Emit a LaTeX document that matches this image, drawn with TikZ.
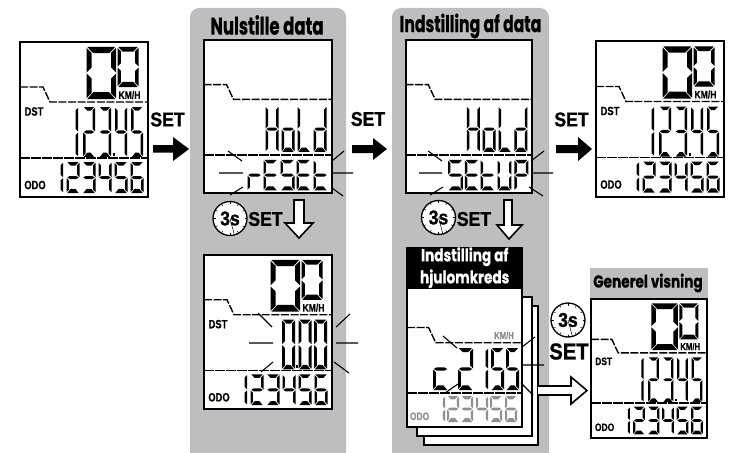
\documentclass[tikz,border=0pt]{standalone}
\usepackage{fontspec}
\setmainfont{Liberation Sans}
\newfontfamily\ttlf[FakeStretch=0.68,FakeBold=0.5]{Poppins}
\newfontfamily\ttlg[FakeStretch=0.78,FakeBold=0.5]{Poppins}
\newfontfamily\cnd[FakeStretch=0.78,FakeBold=0.5]{Liberation Sans}
\newfontfamily\setf[FakeStretch=0.88,FakeBold=1]{Liberation Sans}
\definecolor{panelgrey}{HTML}{BCBEC0}
\definecolor{fadegrey}{HTML}{8E8F92}
\tikzset{
  px/.style={x=1pt,y=-1pt},
  frameline/.style={draw=black,fill=white,line width=2pt},
  dashline/.style={line width=1.4pt,dash pattern=on 8pt off 1.6pt},
  sepline/.style={line width=1.4pt,dash pattern=on 10pt off 1pt},
  ray/.style={line width=1.1pt},
  panel/.style={fill=panelgrey,rounded corners=9pt},
  solidarrow/.style={fill=black},
  hollowarrow/.style={fill=white,draw=black,line width=1.6pt,line join=miter},
  settxt/.style={inner sep=0pt,font=\fontsize{20}{20}\setf\bfseries},
  ttl/.style={inner sep=0pt,font=\fontsize{23}{24}\ttlf\bfseries},
  lbl/.style={inner sep=0pt,transform shape,font=\fontsize{12}{12}\cnd\bfseries},
  kmh/.style={inner sep=0pt,transform shape,font=\fontsize{11}{11}\cnd\bfseries}
}
% seven segment digit: x,y,w,h,t,segments
\newcommand\dgt[6]{\begin{scope}[shift={(#1,#2)}]\def\dW{#3}\def\dH{#4}\def\dT{#5}\foreach \s in {#6}{\csname sg\s\endcsname}\end{scope}}
\def\sga{\fill (.8,0)--(\dW-.8,0)--(\dW-1.8-\dT,\dT+1.2)--(1.8+\dT,\dT+1.2)--cycle;}
\def\sgd{\fill (.8,\dH)--(\dW-.8,\dH)--(\dW-1.8-\dT,\dH-\dT-1.8)--(1.8+\dT,\dH-\dT-1.8)--cycle;}
\def\sgb{\fill (\dW,.8)--(\dW,\dH/2-.5)--(\dW-\dT,\dH/2-.5-\dT)--(\dW-\dT,.8+\dT)--cycle;}
\def\sgc{\fill (\dW,\dH-.8)--(\dW,\dH/2+.5)--(\dW-\dT,\dH/2+.5+\dT)--(\dW-\dT,\dH-.8-\dT)--cycle;}
\def\sgf{\fill (0,.8)--(0,\dH/2-.5)--(\dT,\dH/2-.5-\dT)--(\dT,.8+\dT)--cycle;}
\def\sge{\fill (0,\dH-.8)--(0,\dH/2+.5)--(\dT,\dH/2+.5+\dT)--(\dT,\dH-.8-\dT)--cycle;}
\def\sgg{\fill (.8,\dH/2)--(.8+\dT,\dH/2-\dT/2-.3)--(\dW-.8-\dT,\dH/2-\dT/2-.3)--(\dW-.8,\dH/2)--(\dW-.8-\dT,\dH/2+\dT/2+.3)--(.8+\dT,\dH/2+\dT/2+.3)--cycle;}
% screen frame: name,x,y,sx,sy,content
\newcommand\lcd[6]{\begin{scope}[shift={(#2,#3)},xscale=#4,yscale=#5]
  \draw[frameline] (0,0) rectangle (128,155);
  \draw[dashline] (0,45)--(23,45)--(30,60)--(128,60);
  \draw[sepline] (0,116)--(128,116);
  #6
\end{scope}}
\newcommand\speed{
  \dgt{66.5}{5}{29.5}{52}{5}{a,b,c,d,e,f}
  \dgt{97.5}{5}{21}{40}{3.4}{a,b,c,d,e,f}
}
\newcommand\mainrow{
  \dgt{55}{65}{3}{50}{2.5}{b,c}
  \dgt{63}{65}{12}{50}{2.5}{a,b,g,e,d}
  \dgt{79}{65}{12}{50}{2.5}{a,b,g,c,d}
  \fill (92.5,111) rectangle (94.5,114);
  \dgt{95}{65}{12}{50}{2.5}{f,g,b,c}
  \dgt{111}{65}{12}{50}{2.5}{a,f,g,c,d}
}
\newcommand\odorow{
  \dgt{40}{120}{3}{31}{2.4}{b,c}
  \dgt{46.5}{120}{13}{31}{2.4}{a,b,g,e,d}
  \dgt{62.5}{120}{13}{31}{2.4}{a,b,g,c,d}
  \dgt{78.5}{120}{13}{31}{2.4}{f,g,b,c}
  \dgt{94.5}{120}{13}{31}{2.4}{a,f,g,c,d}
  \dgt{110.5}{120}{13}{31}{2.4}{a,f,g,e,c,d}
}
\newcommand\holdrow{
  \dgt{62}{67}{13}{46}{2.5}{b,c,e,f,g}
  \dgt{78}{67}{13}{46}{2.5}{c,d,e,g}
  \dgt{94}{67}{13}{46}{2.5}{d,e,f}
  \dgt{110}{67}{13}{46}{2.5}{b,c,d,e,g}
}
\newcommand\swatch[3]{
  \draw[fill=white,line width=1.3pt] (#2,#3) circle (17);
  \foreach \a in {0,30,...,330}{\draw[line width=.5pt] ($(#2,#3)+(\a:14.5)$)--($(#2,#3)+(\a:17)$);}
  \draw[line width=.5pt] ($(#2,#3)+(75:17)$)--(#2,#3);
  \node[inner sep=0pt,font=\fontsize{20}{20}\setf\bfseries] (#1) at (#2,#3) {3s};
}
\usetikzlibrary{calc}
\begin{document}
\begin{tikzpicture}[px]
\useasboundingbox (0,0) rectangle (730,452);
\fill[white] (0,0) rectangle (730,452);
% panels
\fill[panel] (190,470)--(190,8)--(346,8)--(346,470);
\fill[panel] (392,470)--(392,8)--(549,8)--(549,470);
\fill[panelgrey] (590,268) rectangle (708,300);
\node[ttl,font=\fontsize{24.3}{25}\ttlf\bfseries] (t1) at (267,25) {Nulstille data};
\node[ttl] (t2) at (470.5,26) {Indstilling af data};
\node[ttl,font=\fontsize{17.5}{18}\ttlg\bfseries] (t3) at (648,283) {Generel visning};
% screen 1
\lcd{a}{20}{42}{1}{1}{\speed
  \node[kmh] (a-k) at (109.5,53) {KM/H};
  \node[lbl] (a-d) at (14,69.5) {DST};
  \node[lbl] (a-o) at (15,143) {ODO};
  \mainrow\odorow}
% screen 2
\lcd{b}{203.5}{40}{1}{.99}{\holdrow
  \dgt{44}{121}{14}{31}{2.4}{e,g}
  \dgt{60}{121}{14}{31}{2.4}{a,d,e,f,g}
  \dgt{77}{121}{14}{31}{2.4}{a,c,d,f,g}
  \dgt{93}{121}{14}{31}{2.4}{a,d,e,f,g}
  \dgt{110}{121}{14}{31}{2.4}{d,e,f,g}}
\draw[ray] (228,151)--(242,161) (219,173)--(243,173) (230,195)--(243,187)
           (332,161)--(344,151) (332,173)--(353,173) (332,188)--(343,196);
% screen 3
\lcd{c}{405.5}{40}{.99}{.99}{\holdrow
  \dgt{43}{121}{15}{31}{2.4}{a,c,d,f,g}
  \dgt{60}{121}{14}{31}{2.4}{a,d,e,f,g}
  \dgt{76}{121}{14}{31}{2.4}{d,e,f,g}
  \dgt{93}{121}{14}{31}{2.4}{c,d,e,f,b}
  \dgt{110}{121}{14}{31}{2.4}{a,b,e,f,g}}
\draw[ray] (428,151)--(442,161) (419,173)--(442,173) (430,195)--(443,187)
           (531,161)--(544,151) (531,173)--(553,173) (529,187)--(543,196);
% screen 4
\lcd{d}{596}{41.5}{1}{1}{\speed
  \node[kmh] (d-k) at (109.5,53) {KM/H};
  \node[lbl] (d-d) at (14,69.5) {DST};
  \node[lbl] (d-o) at (15,143) {ODO};
  \mainrow\odorow}
% screen 5
\lcd{e}{204}{255}{1}{.995}{\speed
  \node[kmh] (e-k) at (109.5,53) {KM/H};
  \node[lbl] (e-d) at (14,69.5) {DST};
  \node[lbl] (e-o) at (15,143) {ODO};
  \dgt{78}{65}{13}{50}{2.8}{a,b,c,d,e,f}
  \fill (92,111) rectangle (94,114);
  \dgt{94.5}{65}{13}{50}{2.8}{a,b,c,d,e,f}
  \dgt{110}{65}{13}{50}{2.8}{a,b,c,d,e,f}
  \odorow}
\draw[ray] (258,313)--(272,327) (249,343)--(273,343) (261,372)--(273,362)
           (336,327)--(350,314) (336,343)--(358,343) (334,362)--(349,373);
% wheel-size stack
\draw[frameline] (424,306) rectangle (538,445);
\draw[frameline] (417,297) rectangle (532,436);
\begin{scope}[shift={(407,288)},xscale=.898,yscale=.897]
  \draw[frameline] (0,0) rectangle (128,155);
  \draw[dashline] (0,44)--(24,44)--(32,61)--(128,61);
  \draw[sepline] (0,117)--(128,117);
  \node[kmh,text=fadegrey] (f-k) at (108,53) {KM/H};
  \node[lbl,text=fadegrey] (f-o) at (14,143) {ODO};
\end{scope}
\begin{scope}[fadegrey]
\dgt{442}{396}{3}{26}{2.2}{b,c}
\dgt{447}{396}{12}{26}{2.2}{a,b,g,e,d}
\dgt{461}{396}{12}{26}{2.2}{a,b,g,c,d}
\dgt{476}{396}{12}{26}{2.2}{f,g,b,c}
\dgt{490}{396}{12}{26}{2.2}{a,f,g,c,d}
\dgt{505}{396}{12}{26}{2.2}{a,f,g,e,c,d}
\end{scope}
\dgt{433}{348}{15}{42}{2.8}{g,e,d}
\dgt{458}{348}{15}{42}{2.8}{a,b,g,e,d}
\dgt{485}{348}{3}{42}{2.4}{b,c}
\dgt{491}{348}{13}{42}{2.8}{a,f,g,c,d}
\dgt{506}{348}{13}{42}{2.8}{a,f,g,c,d}
\draw[ray] (443,336)--(457,348) (445,393)--(458,384)
           (522,347)--(535,337) (522,365)--(544,365) (521,383)--(533,395);
\node[fill=black,text=white,minimum width=117pt,minimum height=41pt,inner sep=0pt,anchor=north west,align=center,font=\fontsize{17.5}{22}\ttlg\bfseries] (f-t) at (406,247) {Indstilling af\\hjulomkreds};
% general view
\lcd{g}{591}{299}{.906}{.897}{\speed
  \node[kmh] (g-k) at (109.5,53) {KM/H};
  \node[lbl] (g-d) at (14,69.5) {DST};
  \node[lbl] (g-o) at (15,143) {ODO};
  \mainrow\odorow}
% solid arrows and SET labels
\fill[solidarrow] (153,145)--(173,145)--(173,137)--(189,149)--(173,161)--(173,152.5)--(153,152.5)--cycle;
\fill[solidarrow] (352,145)--(373,145)--(373,138)--(387,149)--(373,160)--(373,153)--(352,153)--cycle;
\fill[solidarrow] (556,145)--(578,145)--(578,137)--(592,149)--(578,161)--(578,153)--(556,153)--cycle;
\node[settxt] (s1) at (167.5,119.5) {SET};
\node[settxt] (s2) at (368,119) {SET};
\node[settxt] (s3) at (571.5,119.5) {SET};
% timed steps
\swatch{w1}{230}{218.5}
\node[settxt] (s4) at (265.5,219) {SET};
\draw[hollowarrow] (294,200)--(304,200)--(304,223)--(313,223)--(299,238)--(285,223)--(294,223)--cycle;
\swatch{w2}{438.5}{217.5}
\node[settxt] (s5) at (474,219) {SET};
\draw[hollowarrow] (504,200)--(512,200)--(512,225)--(522,225)--(509,239)--(497,225)--(504,225)--cycle;
\swatch{w3}{568}{320}
\node[settxt,font=\fontsize{23}{23}\setf\bfseries] (s6) at (569,351.5) {SET};
\draw[hollowarrow] (538,386)--(571,386)--(571,377)--(587,390.5)--(571,404)--(571,395)--(538,395);
\end{tikzpicture}
\end{document}
